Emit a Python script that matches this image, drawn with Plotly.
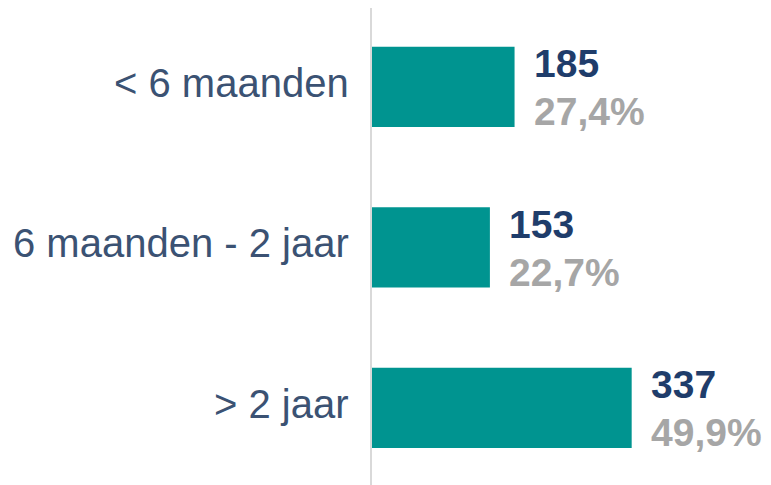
import plotly.graph_objects as go

categories = ["< 6 maanden", "6 maanden - 2 jaar", "> 2 jaar"]
counts = [185, 153, 337]
percents = ["27,4%", "22,7%", "49,9%"]

fig = go.Figure()
fig.add_trace(go.Bar(
    y=categories, x=counts, orientation="h",
    marker=dict(color="#009490", line=dict(width=0)),
    width=0.5, hoverinfo="skip",
))

annotations = []
for cat, c, p in zip(categories, counts, percents):
    annotations.append(dict(x=0, y=cat, xref="paper", yref="y", text=cat,
                            showarrow=False, xanchor="right", yanchor="middle",
                            xshift=-21, yshift=4,
                            font=dict(family="Liberation Sans, Arial", size=40, color="#3B5273")))
    annotations.append(dict(x=c, y=cat, xref="x", yref="y", text="<b>%d</b>" % c,
                            showarrow=False, xanchor="left", yanchor="middle",
                            xshift=17, yshift=23,
                            font=dict(family="Liberation Sans, Arial", size=39, color="#1F3D6B")))
    annotations.append(dict(x=c, y=cat, xref="x", yref="y", text="<b>%s</b>" % p,
                            showarrow=False, xanchor="left", yanchor="middle",
                            xshift=17, yshift=-25,
                            font=dict(family="Liberation Sans, Arial", size=39, color="#A6A6A6")))

fig.update_layout(
    width=763, height=477,
    margin=dict(l=364, r=0, t=0, b=0),
    paper_bgcolor="white", plot_bgcolor="white",
    showlegend=False,
    annotations=annotations,
    xaxis=dict(range=[0, 517.8], visible=False, showgrid=False, zeroline=False),
    yaxis=dict(
        range=[2.48, -0.492], showgrid=False, zeroline=False,
        showline=True, linecolor="#D9D9D9", linewidth=2,
        ticks="", showticklabels=False,
    ),
)

fig.write_html("out.html")
